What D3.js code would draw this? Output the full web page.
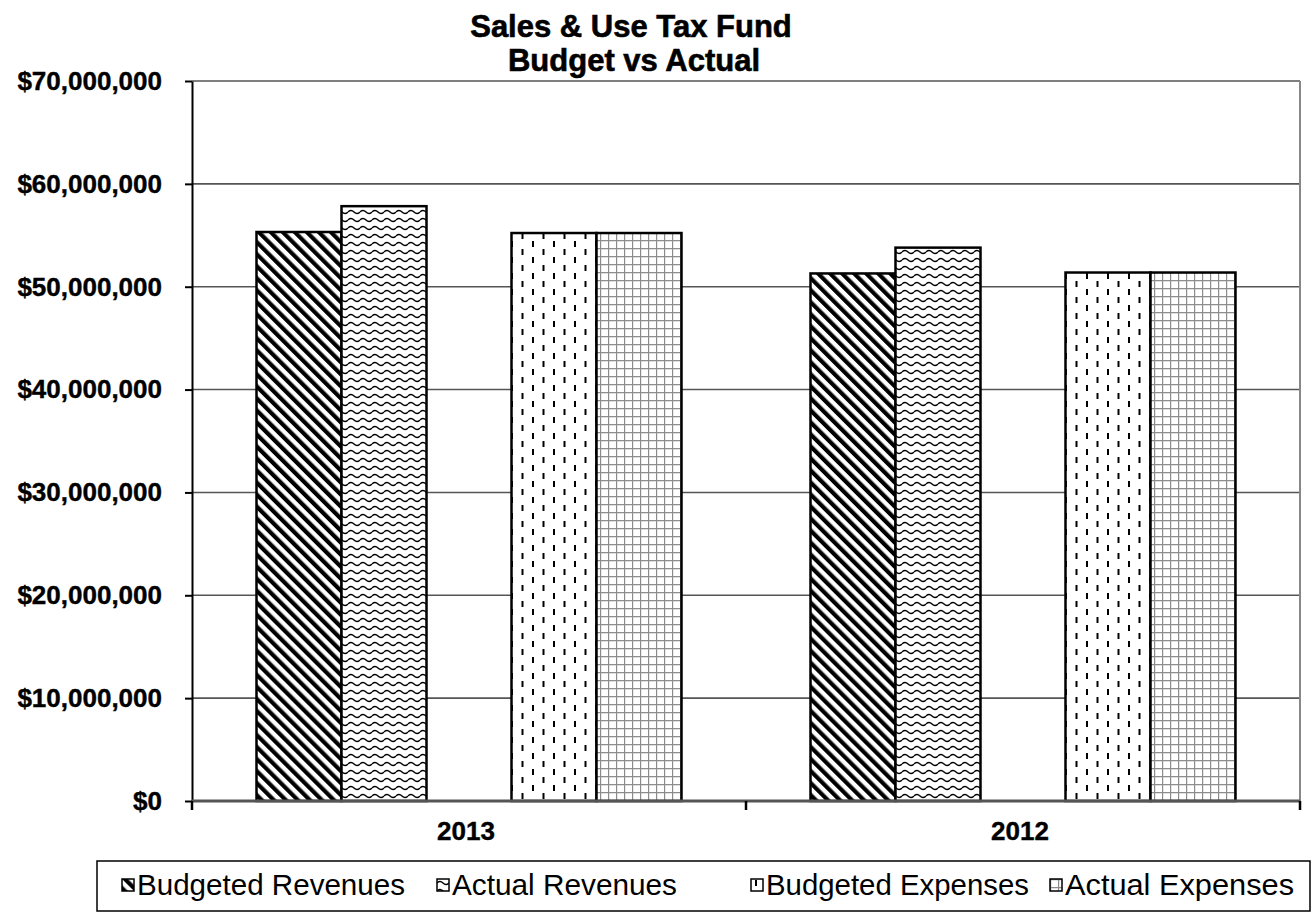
<!DOCTYPE html>
<html>
  <head>
    <meta charset="utf-8">
    <title>Sales & Use Tax Fund</title>
    <script src="https://d3js.org/d3.v7.min.js"></script>
    <style>
      body { margin: 0; background: #fff; }
      svg { display: block; }
      .axis text { font-family: "Liberation Sans", Arial, sans-serif; font-weight: bold; font-size: 26px; fill: #000; }
      .legend text { font-family: "Liberation Sans Narrow", "Arial Narrow", "Liberation Sans", sans-serif; font-size: 29px; fill: #000; }
    </style>
  </head>
  <body>
    <div id="chart"></div>

    <script>
      // Values
      var categories = ["2013", "2012"];
      var seriesNames = ["Budgeted Revenues", "Actual Revenues", "Budgeted Expenses", "Actual Expenses"];
      var budgetedRevenues = [55320000, 51290000];
      var actualRevenues   = [57830000, 53800000];
      var budgetedExpenses = [55220000, 51380000];
      var actualExpenses   = [55220000, 51380000];
      var yTicks = [0, 10000000, 20000000, 30000000, 40000000, 50000000, 60000000, 70000000];

      var seriesValues = [budgetedRevenues, actualRevenues, budgetedExpenses, actualExpenses];
      var patterns = ["p-diag", "p-wave", "p-dash", "p-grid"];
      // slots inside a category: revenues pair, an empty slot, expenses pair
      var slots = ["Budgeted Revenues", "Actual Revenues", "gap", "Budgeted Expenses", "Actual Expenses"];

      var width = 1312, height = 912;
      var plotLeft = 192, plotRight = 1300, plotTop = 81, plotBottom = 801;

      var svg = d3.select("#chart").append("svg")
        .attr("width", width).attr("height", height);

      // Fill patterns
      var defs = svg.append("defs");

      var diag = defs.append("pattern").attr("id", "p-diag")
        .attr("patternUnits", "userSpaceOnUse")
        .attr("width", 8.5).attr("height", 8.5)
        .attr("patternTransform", "rotate(-45)");
      diag.append("rect").attr("width", 8.5).attr("height", 8.5).attr("fill", "#fff");
      diag.append("rect").attr("width", 4.2).attr("height", 8.5).attr("fill", "#000");

      var wave = defs.append("pattern").attr("id", "p-wave")
        .attr("patternUnits", "userSpaceOnUse")
        .attr("width", 12).attr("height", 8);
      wave.append("rect").attr("width", 12).attr("height", 8).attr("fill", "#fff");
      wave.append("path").attr("d", "M0,4 Q3,1 6,4 T12,4")
        .attr("fill", "none").attr("stroke", "#000").attr("stroke-width", 1.4);

      var dash = defs.append("pattern").attr("id", "p-dash")
        .attr("patternUnits", "userSpaceOnUse")
        .attr("width", 21).attr("height", 16);
      dash.append("rect").attr("width", 21).attr("height", 16).attr("fill", "#fff");
      dash.append("rect").attr("x", 4).attr("y", 1).attr("width", 2).attr("height", 6).attr("fill", "#000");
      dash.append("rect").attr("x", 14.5).attr("y", 9).attr("width", 2).attr("height", 6).attr("fill", "#000");

      var grid = defs.append("pattern").attr("id", "p-grid")
        .attr("patternUnits", "userSpaceOnUse")
        .attr("width", 8).attr("height", 8);
      grid.append("rect").attr("width", 8).attr("height", 8).attr("fill", "#fff");
      grid.append("path").attr("d", "M0,0H8M0,0V8")
        .attr("stroke", "#8c8c8c").attr("stroke-width", 2.4);

      // Scales
      var x0 = d3.scaleBand().domain(categories).range([plotLeft, plotRight]);
      var x1 = d3.scaleBand().domain(slots).range([64.5, x0.bandwidth() - 64.5]);
      var y = d3.scaleLinear().domain([0, 70000000]).range([plotBottom, plotTop]);

      // Title
      var title = svg.append("text")
        .attr("text-anchor", "middle")
        .style("font-family", "'Liberation Sans', Arial, sans-serif")
        .style("font-weight", "bold").style("font-size", "31px")
        .style("stroke", "#000").style("stroke-width", 0.6);
      title.append("tspan").attr("x", 631).attr("y", 37).text("Sales & Use Tax Fund");
      title.append("tspan").attr("x", 634).attr("y", 71).text("Budget vs Actual");

      // Gridlines
      svg.append("g").selectAll("line").data(yTicks.slice(1)).enter().append("line")
        .attr("x1", plotLeft).attr("x2", plotRight)
        .attr("y1", function (d) { return y(d); }).attr("y2", function (d) { return y(d); })
        .attr("stroke", "#555").attr("stroke-width", 1.6);

      // right border of the plot
      svg.append("line").attr("x1", plotRight).attr("x2", plotRight).attr("y1", plotTop).attr("y2", plotBottom)
        .attr("stroke", "#888").attr("stroke-width", 2);

      // Bars
      var groups = svg.append("g").selectAll("g").data(categories).enter().append("g")
        .attr("transform", function (d) { return "translate(" + x0(d) + ",0)"; });

      groups.selectAll("rect")
        .data(function (d, i) {
          return seriesNames.map(function (s, k) {
            return { name: s, value: seriesValues[k][i], fill: patterns[k] };
          });
        })
        .enter().append("rect")
        .attr("x", function (d) { return x1(d.name); })
        .attr("width", x1.bandwidth())
        .attr("y", function (d) { return y(d.value); })
        .attr("height", function (d) { return y(0) - y(d.value); })
        .attr("fill", function (d) { return "url(#" + d.fill + ")"; })
        .attr("stroke", "#000").attr("stroke-width", 2.5);

      // Y axis
      var yAxis = svg.append("g").attr("class", "axis")
        .attr("transform", "translate(" + plotLeft + ",0)")
        .call(d3.axisLeft(y).tickValues(yTicks).tickSize(7).tickSizeOuter(0)
          .tickPadding(23).tickFormat(d3.format("$,")));
      yAxis.select(".domain").attr("stroke", "#000").attr("stroke-width", 2);
      yAxis.selectAll(".tick line").attr("stroke", "#000").attr("stroke-width", 2);
      yAxis.selectAll(".tick text").style("stroke", "#000").style("stroke-width", 0.4);

      // X axis: line, ticks at category edges, labels at centres
      svg.append("line").attr("x1", plotLeft).attr("x2", plotRight).attr("y1", plotBottom).attr("y2", plotBottom)
        .attr("stroke", "#555").attr("stroke-width", 3);

      var edges = categories.map(function (c) { return x0(c); }).concat([plotRight]);
      svg.append("g").selectAll("line").data(edges).enter().append("line")
        .attr("x1", function (d) { return d; }).attr("x2", function (d) { return d; })
        .attr("y1", plotBottom).attr("y2", plotBottom + 9)
        .attr("stroke", "#000").attr("stroke-width", 2.5);

      svg.append("g").attr("class", "axis").selectAll("text").data(categories).enter().append("text")
        .attr("x", function (d) { return x0(d) + x0.bandwidth() / 2 - 3; })
        .attr("y", 840).attr("text-anchor", "middle")
        .style("stroke", "#000").style("stroke-width", 0.4)
        .text(function (d) { return d; });

      // Legend
      var legend = svg.append("g").attr("class", "legend");
      legend.append("rect").attr("x", 97).attr("y", 861).attr("width", 1213).attr("height", 50)
        .attr("fill", "#fff").attr("stroke", "#000").attr("stroke-width", 1.5);

      var legendX = [122, 437, 751, 1050];
      var legendW = [268, 225, 263, 229];
      var items = legend.selectAll("g.item").data(seriesNames).enter().append("g")
        .attr("class", "item")
        .attr("transform", function (d, i) { return "translate(" + legendX[i] + ",879)"; });
      items.append("rect").attr("width", 12).attr("height", 12)
        .attr("fill", function (d, i) { return "url(#" + patterns[i] + ")"; })
        .attr("stroke", "#000").attr("stroke-width", 1.5);
      items.append("text").attr("x", 15).attr("y", 16)
        .attr("textLength", function (d, i) { return legendW[i]; })
        .attr("lengthAdjust", "spacingAndGlyphs")
        .text(function (d) { return d; });
    </script>
  </body>
</html>
